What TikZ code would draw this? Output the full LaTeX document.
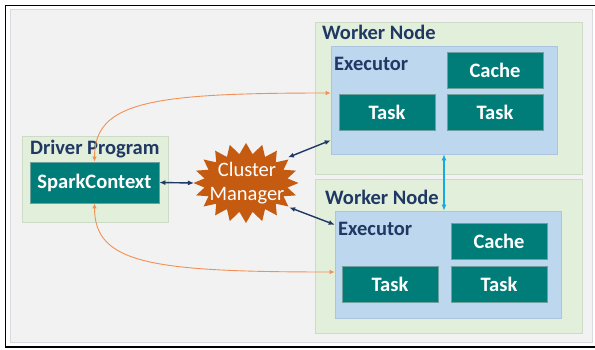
\documentclass[tikz,border=0pt]{standalone}
\usepackage{fontspec}
\setmainfont{Carlito}
\usetikzlibrary{shapes.geometric,arrows.meta}
\definecolor{bggray}{RGB}{242,242,242}
\definecolor{bgline}{RGB}{215,218,222}
\definecolor{nodegreen}{RGB}{226,239,218}
\definecolor{nodeline}{RGB}{205,218,200}
\definecolor{execblue}{RGB}{189,215,238}
\definecolor{execline}{RGB}{172,196,222}
\definecolor{boxteal}{RGB}{0,125,121}
\definecolor{boxline}{RGB}{110,160,158}
\definecolor{titlenavy}{RGB}{31,56,100}
\definecolor{burst}{RGB}{197,90,17}
\definecolor{linkorange}{RGB}{241,145,85}
\definecolor{linknavy}{RGB}{32,56,100}
\definecolor{linkcyan}{RGB}{20,170,230}

\begin{document}
\begin{tikzpicture}[x=1pt,y=-1pt,
  bigfont/.style={font=\fontsize{20.5}{24}\selectfont},
  panel/.style={draw=nodeline, fill=nodegreen, line width=0.6pt, inner sep=0},
  execpanel/.style={draw=execline, fill=execblue, line width=0.6pt, inner sep=0},
  tealbox/.style={draw=boxline, fill=boxteal, line width=0.6pt, text=white, font=\bfseries\fontsize{20.5}{24}\selectfont, minimum width=96pt, minimum height=36pt, inner sep=0},
  title/.style={text=titlenavy, font=\bfseries\fontsize{20.5}{24}\selectfont, inner sep=0, anchor=base west},
  navylink/.style={{Latex[length=6pt,width=5pt]}-{Latex[length=6pt,width=5pt]}, linknavy, line width=1.4pt},
  cyanlink/.style={{Latex[length=6pt,width=5pt]}-{Latex[length=6pt,width=5pt]}, linkcyan, line width=1.4pt},
  orangelink/.style={{Latex[length=5pt,width=4.5pt]}-{Latex[length=5pt,width=4.5pt]}, linkorange, line width=0.9pt}]
\useasboundingbox (0,0) rectangle (595,349);
\draw [line width=1.6pt] (5.5,5.5) rectangle (600,347);
\draw [fill=bggray, draw=bgline, line width=0.8pt] (10,9) rectangle (592,342);

\node [panel, minimum width=146pt, minimum height=86pt] (driver) at (95,179) {};
\node [title] (drivertitle) at (30,154) {Driver Program};
\node [tealbox, minimum width=129pt, minimum height=41pt] (sc) at (94.5,182.5) {SparkContext};

\fill [burst] plot [domain=0:40, samples=41, variable=\k]
  ({246+52.5*(1-0.2*mod(\k,2))*cos(9*\k)}, {183+40*(1-0.27*mod(\k,2))*sin(9*\k)}) -- cycle;
\node [ellipse, text=white, bigfont, align=center, minimum width=105pt, minimum height=80pt, inner sep=0] (cm) at (247,183) {Cluster\\Manager};

\node [panel, minimum width=267pt, minimum height=152pt] (w1) at (448.5,98) {};
\node [title] (w1title) at (322,39) {Worker Node};
\node [execpanel, minimum width=226pt, minimum height=108pt] (ex1) at (444,100) {};
\node [title] (ex1title) at (334,70) {Executor};
\node [tealbox] (cache1) at (495,70) {Cache};
\node [tealbox] (task1a) at (387,112.5) {Task};
\node [tealbox] (task1b) at (495,112.5) {Task};

\node [panel, minimum width=267pt, minimum height=154pt] (w2) at (448.5,256) {};
\node [title] (w2title) at (325,204) {Worker Node};
\node [execpanel, minimum width=226pt, minimum height=107pt] (ex2) at (448,264.5) {};
\node [title] (ex2title) at (338,235) {Executor};
\node [tealbox] (cache2) at (499,241) {Cache};
\node [tealbox] (task2a) at (390,284) {Task};
\node [tealbox] (task2b) at (499,284) {Task};

\coordinate (ex1in) at ([yshift=14pt]ex1.south west);
\coordinate (ex2in) at ([yshift=-14pt]ex2.north west);
\coordinate (ex1up) at ([yshift=7pt]ex1.west);
\coordinate (ex2down) at ([yshift=-7.5pt]ex2.west);

\draw [navylink] (sc.east) -- (cm.west);
\draw [navylink] (cm.32) -- (ex1in);
\draw [navylink] (cm.-30) -- (ex2in);
\draw [cyanlink] (ex1.south) -- (ex1.south |- ex2.north);
\draw [orangelink] (sc.north) .. controls +(0,-60) and +(-180,0) .. (ex1up);
\draw [orangelink] (sc.south) .. controls +(0,60) and +(-185,0) .. (ex2down);
\end{tikzpicture}
\end{document}
